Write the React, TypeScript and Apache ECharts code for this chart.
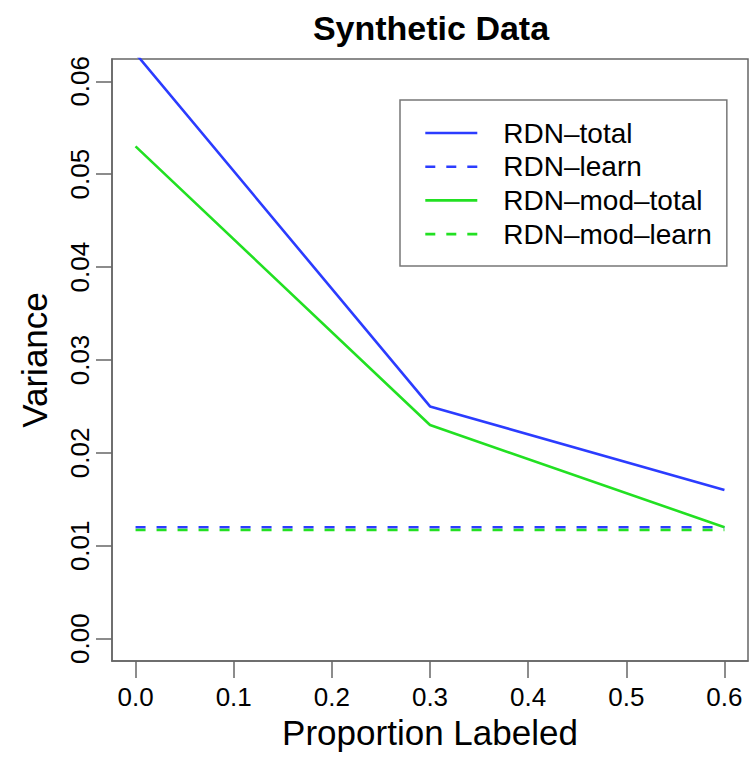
import React, { useEffect, useRef } from "react";
import * as echarts from "echarts";

const xValues = [0.0, 0.3, 0.6];
const rdnTotal = [0.063, 0.025, 0.016];
const rdnLearn = [0.012, 0.012, 0.012];
const rdnModTotal = [0.053, 0.023, 0.012];
const rdnModLearn = [0.0117, 0.0117, 0.0117];
const seriesNames = ["RDN–total", "RDN–learn", "RDN–mod–total", "RDN–mod–learn"];
const xTicks = [0, 0.1, 0.2, 0.3, 0.4, 0.5, 0.6];
const yTicks = [0, 0.01, 0.02, 0.03, 0.04, 0.05, 0.06];

const BLUE = "#2b3cff";
const GREEN = "#22e022";
const FONT = "'Liberation Sans', Arial, Helvetica, sans-serif";

function pairs(ys: number[]) {
  return xValues.map((x, i) => [x, ys[i]]);
}

export default function App() {
  const ref = useRef<HTMLDivElement>(null);
  useEffect(() => {
    if (!ref.current) return;
    const chart = echarts.init(ref.current, null, { renderer: "svg" });
    const mk = (name: string, data: number[], color: string, dashed: boolean) => ({
      name,
      type: "line",
      data: pairs(data),
      symbol: "none",
      clip: true,
      lineStyle: { color, width: 2.6, type: dashed ? [10, 11] : "solid" },
      itemStyle: { color },
    });
    chart.setOption({
      animation: false,
      backgroundColor: "#ffffff",
      title: {
        text: "Synthetic Data",
        left: 426,
        textAlign: "center",
        top: 6,
        textStyle: { fontFamily: FONT, fontWeight: "bold", fontSize: 34, color: "#000" },
      },
      grid: {
        left: 112,
        top: 59,
        right: 5,
        bottom: 96,
        show: true,
        borderColor: "#666",
        borderWidth: 1.5,
        containLabel: false,
      },
      legend: {
        orient: "vertical",
        left: 400,
        top: 100,
        padding: [19, 15, 18, 24],
        itemWidth: 52,
        itemHeight: 28,
        itemGap: 5.7,
        borderColor: "#777",
        borderWidth: 1.5,
        borderRadius: 0,
        backgroundColor: "#fff",
        data: seriesNames,
        itemStyle: { color: "transparent", borderWidth: 0, opacity: 0 },
        lineStyle: { width: 2.6 },
        textStyle: {
          fontFamily: FONT,
          fontSize: 28,
          color: "#000",
          lineHeight: 28,
          padding: [0, 0, 0, 21],
        },
      },
      xAxis: {
        type: "value",
        min: -0.024,
        max: 0.624,
        name: "Proportion Labeled",
        nameLocation: "middle",
        nameGap: 50,
        nameTextStyle: { fontFamily: FONT, fontSize: 35, color: "#000" },
        axisLine: { show: true, onZero: false, lineStyle: { color: "#666", width: 1.5 } },
        axisTick: {
          show: true,
          length: 17,
          lineStyle: { color: "#666", width: 1.5 },
          customValues: xTicks,
        },
        axisLabel: {
          customValues: xTicks,
          formatter: (v: number) => v.toFixed(1),
          fontFamily: FONT,
          fontSize: 26,
          color: "#000",
          margin: 23,
        },
        splitLine: { show: false },
      },
      yAxis: {
        type: "value",
        min: -0.0024,
        max: 0.0624,
        name: "Variance",
        nameLocation: "middle",
        nameGap: 60,
        nameTextStyle: { fontFamily: FONT, fontSize: 35, color: "#000" },
        axisLine: { show: true, onZero: false, lineStyle: { color: "#666", width: 1.5 } },
        axisTick: {
          show: true,
          length: 16,
          lineStyle: { color: "#666", width: 1.5 },
          customValues: yTicks,
        },
        axisLabel: {
          customValues: yTicks,
          formatter: (v: number) => v.toFixed(2),
          rotate: 90,
          fontFamily: FONT,
          fontSize: 26,
          color: "#000",
          margin: 19,
        },
        splitLine: { show: false },
      },
      series: [
        mk(seriesNames[0], rdnTotal, BLUE, false),
        mk(seriesNames[1], rdnLearn, BLUE, true),
        mk(seriesNames[2], rdnModTotal, GREEN, false),
        mk(seriesNames[3], rdnModLearn, GREEN, true),
      ],
    });
    return () => chart.dispose();
  }, []);
  return <div ref={ref} style={{ width: 753, height: 757, position: "absolute", left: 0, top: 0 }} />;
}
